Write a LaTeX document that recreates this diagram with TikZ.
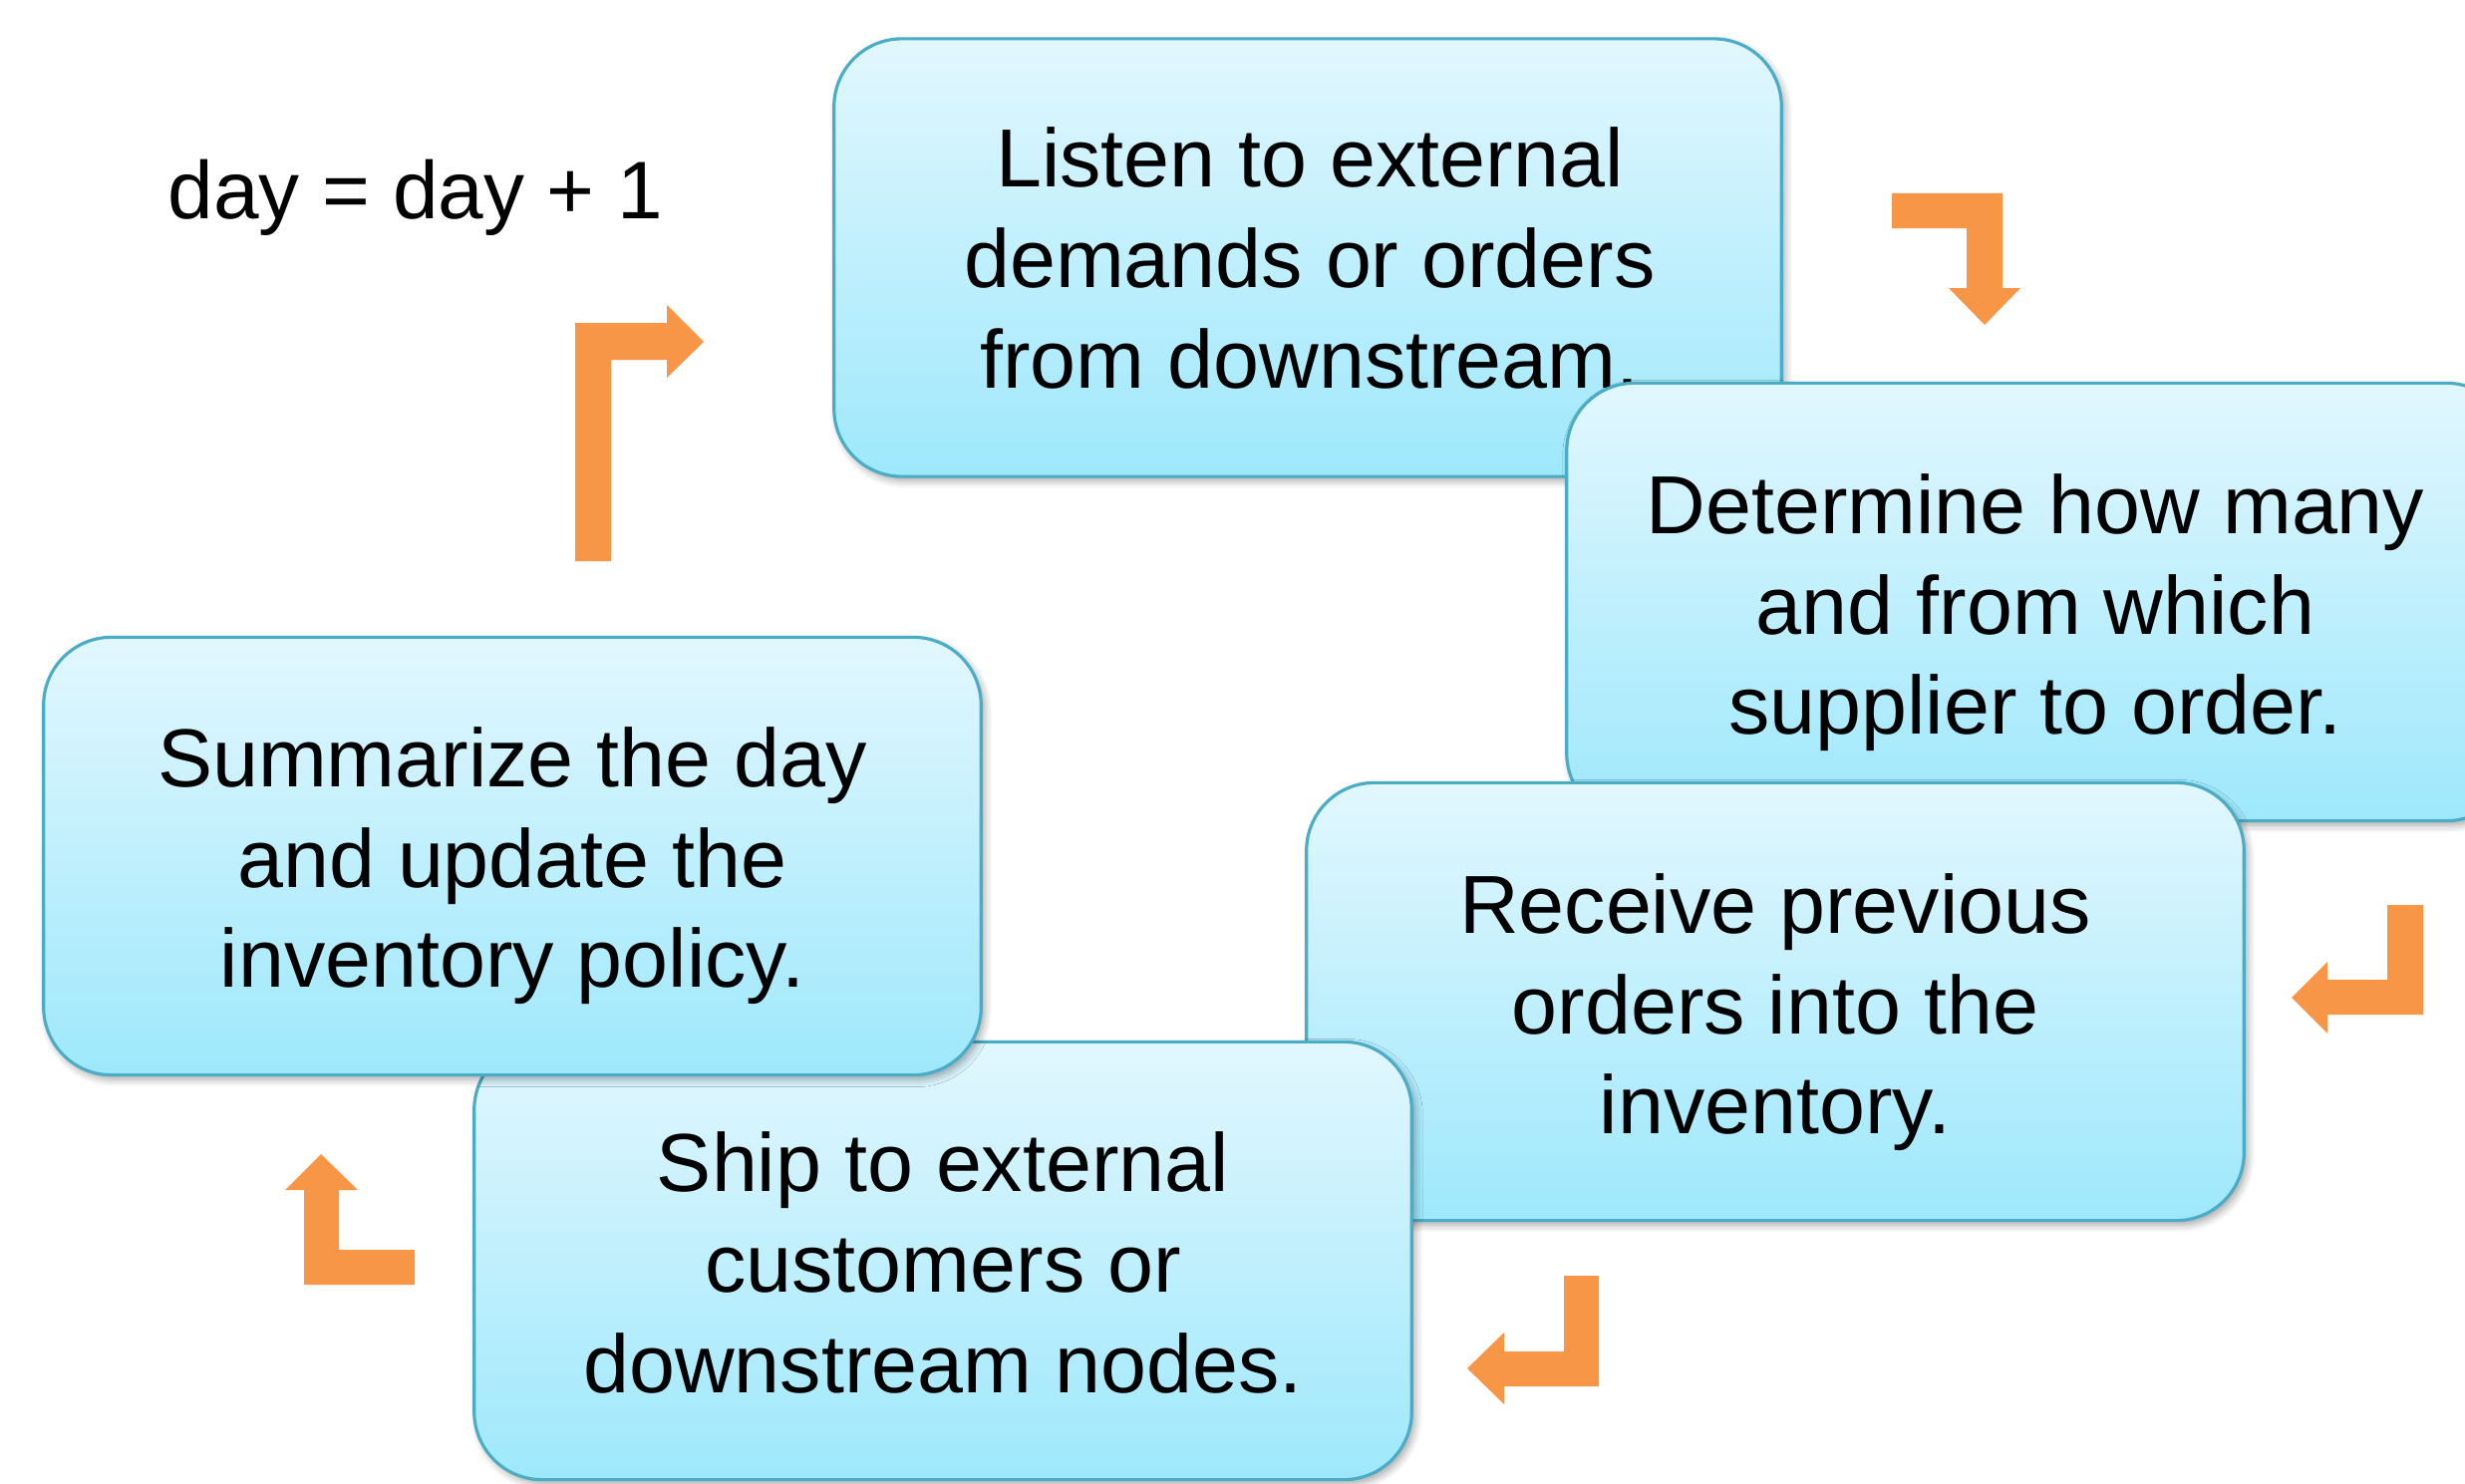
\documentclass[tikz,border=0pt]{standalone}
\usepackage{fontspec}
\setmainfont{Liberation Sans}
\usetikzlibrary{shadows.blur}
\definecolor{boxborder}{HTML}{4BACC6}
\definecolor{boxtop}{HTML}{E2F7FE}
\definecolor{boxbottom}{HTML}{9EE8FC}
\definecolor{arroworange}{HTML}{F79646}
\tikzset{
  stepbox/.style={draw=boxborder, line width=0.9pt, rounded corners=0.68cm,
    top color=boxtop, bottom color=boxbottom, inner sep=0pt,
    minimum height=4.39cm,
    blur shadow={shadow xshift=0.035cm, shadow yshift=-0.045cm, shadow blur steps=6, shadow opacity=35}},
  steptext/.style={align=center, inner sep=0pt,
    font=\fontsize{23.5}{28.6}\selectfont},
  bentarrow/.style={fill=arroworange, draw=none}
}
\begin{document}
\begin{tikzpicture}[x=0.01cm, y=-0.01cm]
\useasboundingbox (0,0) rectangle (2473,1488);
\clip (0,0) rectangle (2473,1488);

\node[anchor=base west, font=\fontsize{23.3}{28}\selectfont, inner sep=0pt] (dayinc) at (168,219) {day = day + 1};

\node[stepbox, minimum width=9.5cm] (listen) at (1312,258.5) {};
\node[steptext] (listentext) at ([xshift=0.02cm, yshift=-0.005cm]listen.center)
  {Listen to external\\demands or orders\\from downstream.};
\node[stepbox, minimum width=9.5cm] (determine) at (2047,604) {};
\node[steptext] (determinetext) at ([xshift=-0.05cm, yshift=-0.11cm]determine.center)
  {Determine how many\\and from which\\supplier to order.};
\node[stepbox, minimum width=9.4cm] (receive) at (1781,1005) {};
\node[steptext] (receivetext) at ([yshift=-0.11cm]receive.center)
  {Receive previous\\orders into the\\inventory.};
\node[stepbox, minimum width=9.4cm] (ship) at (946,1265) {};
\node[steptext] (shiptext) at ([yshift=-0.02cm]ship.center)
  {Ship to external\\customers or\\downstream nodes.};
\node[stepbox, minimum width=9.4cm] (summarize) at (514,859) {};
\node[steptext] (summarizetext) at ([yshift=-0.10cm]summarize.center)
  {Summarize the day\\and update the\\inventory policy.};

% bent arrows
\fill[bentarrow] (577,563) -- (577,324) -- (669,324) -- (669,306) -- (706,343) -- (669,379) -- (669,361) -- (613,361) -- (613,563) -- cycle;
\fill[bentarrow] (1898,194) -- (2009,194) -- (2009,289) -- (2027,289) -- (1991,326) -- (1955,289) -- (1973,289) -- (1973,229) -- (1898,229) -- cycle;
\fill[bentarrow] (2395,908) -- (2431,908) -- (2431,1018) -- (2335,1018) -- (2335,1037) -- (2299,1001) -- (2335,965) -- (2335,983) -- (2395,983) -- cycle;
\fill[bentarrow] (1569,1280) -- (1604,1280) -- (1604,1391) -- (1509,1391) -- (1509,1409) -- (1472,1373) -- (1509,1337) -- (1509,1356) -- (1569,1356) -- cycle;
\fill[bentarrow] (416,1289) -- (305,1289) -- (305,1194) -- (286,1194) -- (322,1158) -- (359,1194) -- (340,1194) -- (340,1254) -- (416,1254) -- cycle;
\end{tikzpicture}
\end{document}
